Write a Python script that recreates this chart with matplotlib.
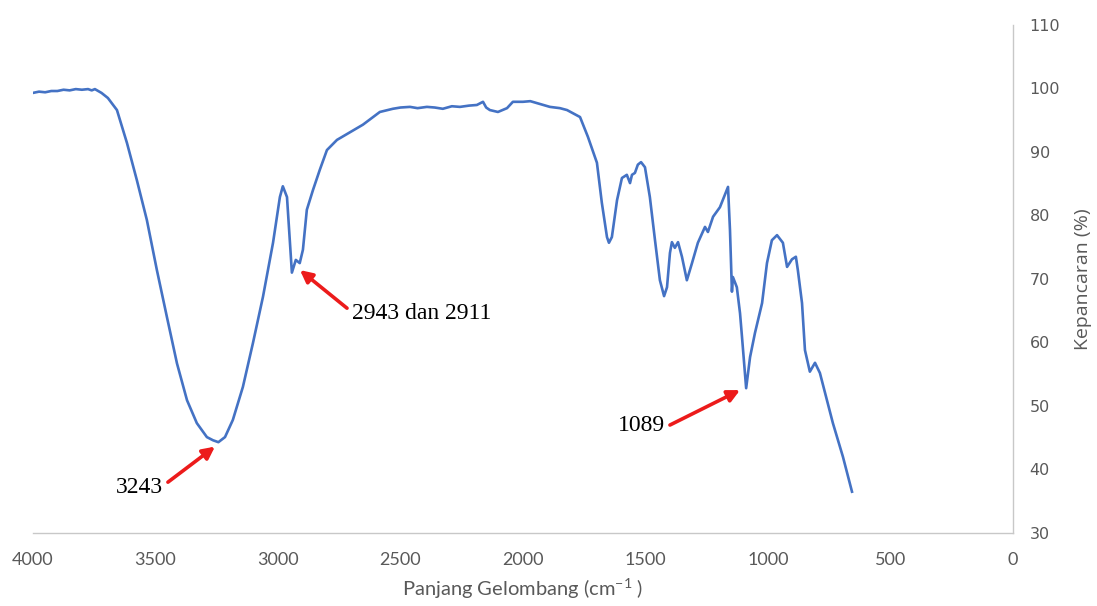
import numpy as np
import matplotlib.pyplot as plt

# FTIR spectrum
wavenumber = [4000, 3975, 3950, 3925, 3900, 3875, 3850, 3825, 3800, 3775, 3760, 3747,
              3720, 3694, 3657, 3616, 3576, 3535, 3494, 3453, 3412, 3371, 3331,
              3290, 3265, 3243, 3216, 3184, 3143, 3102, 3061, 3020, 2992, 2980, 2963,
              2951, 2943, 2927, 2911, 2898, 2882, 2857, 2829, 2800, 2759, 2706,
              2653, 2584, 2531, 2500, 2461, 2430, 2392, 2360, 2327, 2290, 2257,
              2220, 2188, 2163, 2150, 2135, 2102, 2065, 2041, 2000, 1970, 1943,
              1890, 1849, 1820, 1767, 1735, 1698, 1678, 1657, 1649, 1637, 1616,
              1596, 1576, 1563, 1555, 1543, 1531, 1518, 1502, 1482, 1461, 1441,
              1424, 1412, 1400, 1392, 1380, 1367, 1351, 1331, 1310, 1286, 1257,
              1245, 1224, 1196, 1163, 1155, 1147, 1143, 1127, 1114, 1106, 1089,
              1073, 1053, 1024, 1004, 984, 963, 939, 922, 902, 886, 878, 861,
              849, 829, 808, 788, 735, 694, 657]
transmittance = [99.3, 99.5, 99.4, 99.6, 99.6, 99.8, 99.7, 99.9, 99.8, 99.9, 99.7, 99.9,
                 99.3, 98.5, 96.6, 91.4, 85.6, 79.3, 71.4, 64.0, 56.7, 50.9, 47.3,
                 45.1, 44.6, 44.3, 45.1, 47.8, 53.0, 59.9, 67.2, 75.7, 82.9, 84.6, 82.9,
                 75.7, 71.0, 73.0, 72.5, 74.6, 80.9, 84.0, 87.2, 90.3, 91.9, 93.1,
                 94.3, 96.3, 96.8, 97.0, 97.1, 96.9, 97.1, 97.0, 96.8, 97.2, 97.1,
                 97.3, 97.4, 97.9, 97.0, 96.6, 96.3, 96.9, 97.9, 97.9, 98.0, 97.7,
                 97.1, 96.9, 96.6, 95.5, 92.4, 88.3, 82.0, 76.6, 75.7, 76.6, 82.4,
                 85.9, 86.4, 85.1, 86.4, 86.7, 88.0, 88.4, 87.6, 82.9, 76.1, 69.8,
                 67.3, 68.7, 74.1, 75.8, 74.9, 75.8, 73.5, 69.8, 72.5, 75.7, 78.2,
                 77.4, 79.8, 81.3, 84.5, 77.7, 68.0, 70.3, 68.7, 64.6, 60.9, 52.8,
                 57.7, 61.5, 66.2, 72.5, 76.1, 76.9, 75.7, 71.9, 73.1, 73.5, 71.4,
                 66.2, 58.8, 55.4, 56.8, 55.2, 47.3, 42.0, 36.5]

# annotation labels: (text, arrow head, arrow tail, text position, alignment)
peak_labels = ['3243', '2943 dan 2911', '1089']
arrow_heads = [(3257, 43.6), (2910, 71.4), (1114, 52.5)]
arrow_tails = [(3449, 38.0), (2718, 65.4), (1400, 47.0)]
text_pos = [(3469, 37.2), (2698, 64.6), (1420, 47.0)]
text_ha = ['right', 'left', 'right']

fig = plt.figure(figsize=(10.97, 6.06), dpi=100)
ax = fig.add_axes([0.030, 0.1205, 0.8934, 0.8383])

ax.plot(wavenumber, transmittance, color='#4472C4', linewidth=1.9)

for lab, head, tail, pos, ha in zip(peak_labels, arrow_heads, arrow_tails, text_pos, text_ha):
    ax.annotate('', xy=head, xytext=tail,
                arrowprops=dict(arrowstyle='-|>', color='#EC1B1B', lw=2.6,
                                mutation_scale=18, shrinkA=0, shrinkB=0))
    ax.text(pos[0], pos[1], lab, ha=ha, va='center', fontsize=17,
            family='Liberation Serif', color='black')

ax.set_xlim(4000, 0)
ax.set_ylim(30, 110)
ax.set_xticks(np.arange(0, 4001, 500))
ax.set_yticks(np.arange(30, 111, 10))

ax.yaxis.tick_right()
ax.yaxis.set_label_position('right')
for side in ['left', 'top']:
    ax.spines[side].set_visible(False)
for side in ['right', 'bottom']:
    ax.spines[side].set_color('#C8C8C8')
    ax.spines[side].set_linewidth(1.0)

ax.tick_params(axis='x', length=0, pad=14, labelsize=13, labelcolor='#595959')
ax.tick_params(axis='y', length=0, pad=12, labelsize=11.5, labelcolor='#595959')
for t in ax.get_xticklabels():
    t.set_family('Lato')

plt.rcParams['mathtext.default'] = 'regular'
ax.set_xlabel('Panjang Gelombang (cm$^{-1}$ )', fontsize=14.5, color='#595959',
              family='Lato', labelpad=6)
ax.set_ylabel('Kepancaran (%)', fontsize=14, color='#595959',
              family='Open Sans', labelpad=10)

fig.savefig('out.png', dpi=100)
